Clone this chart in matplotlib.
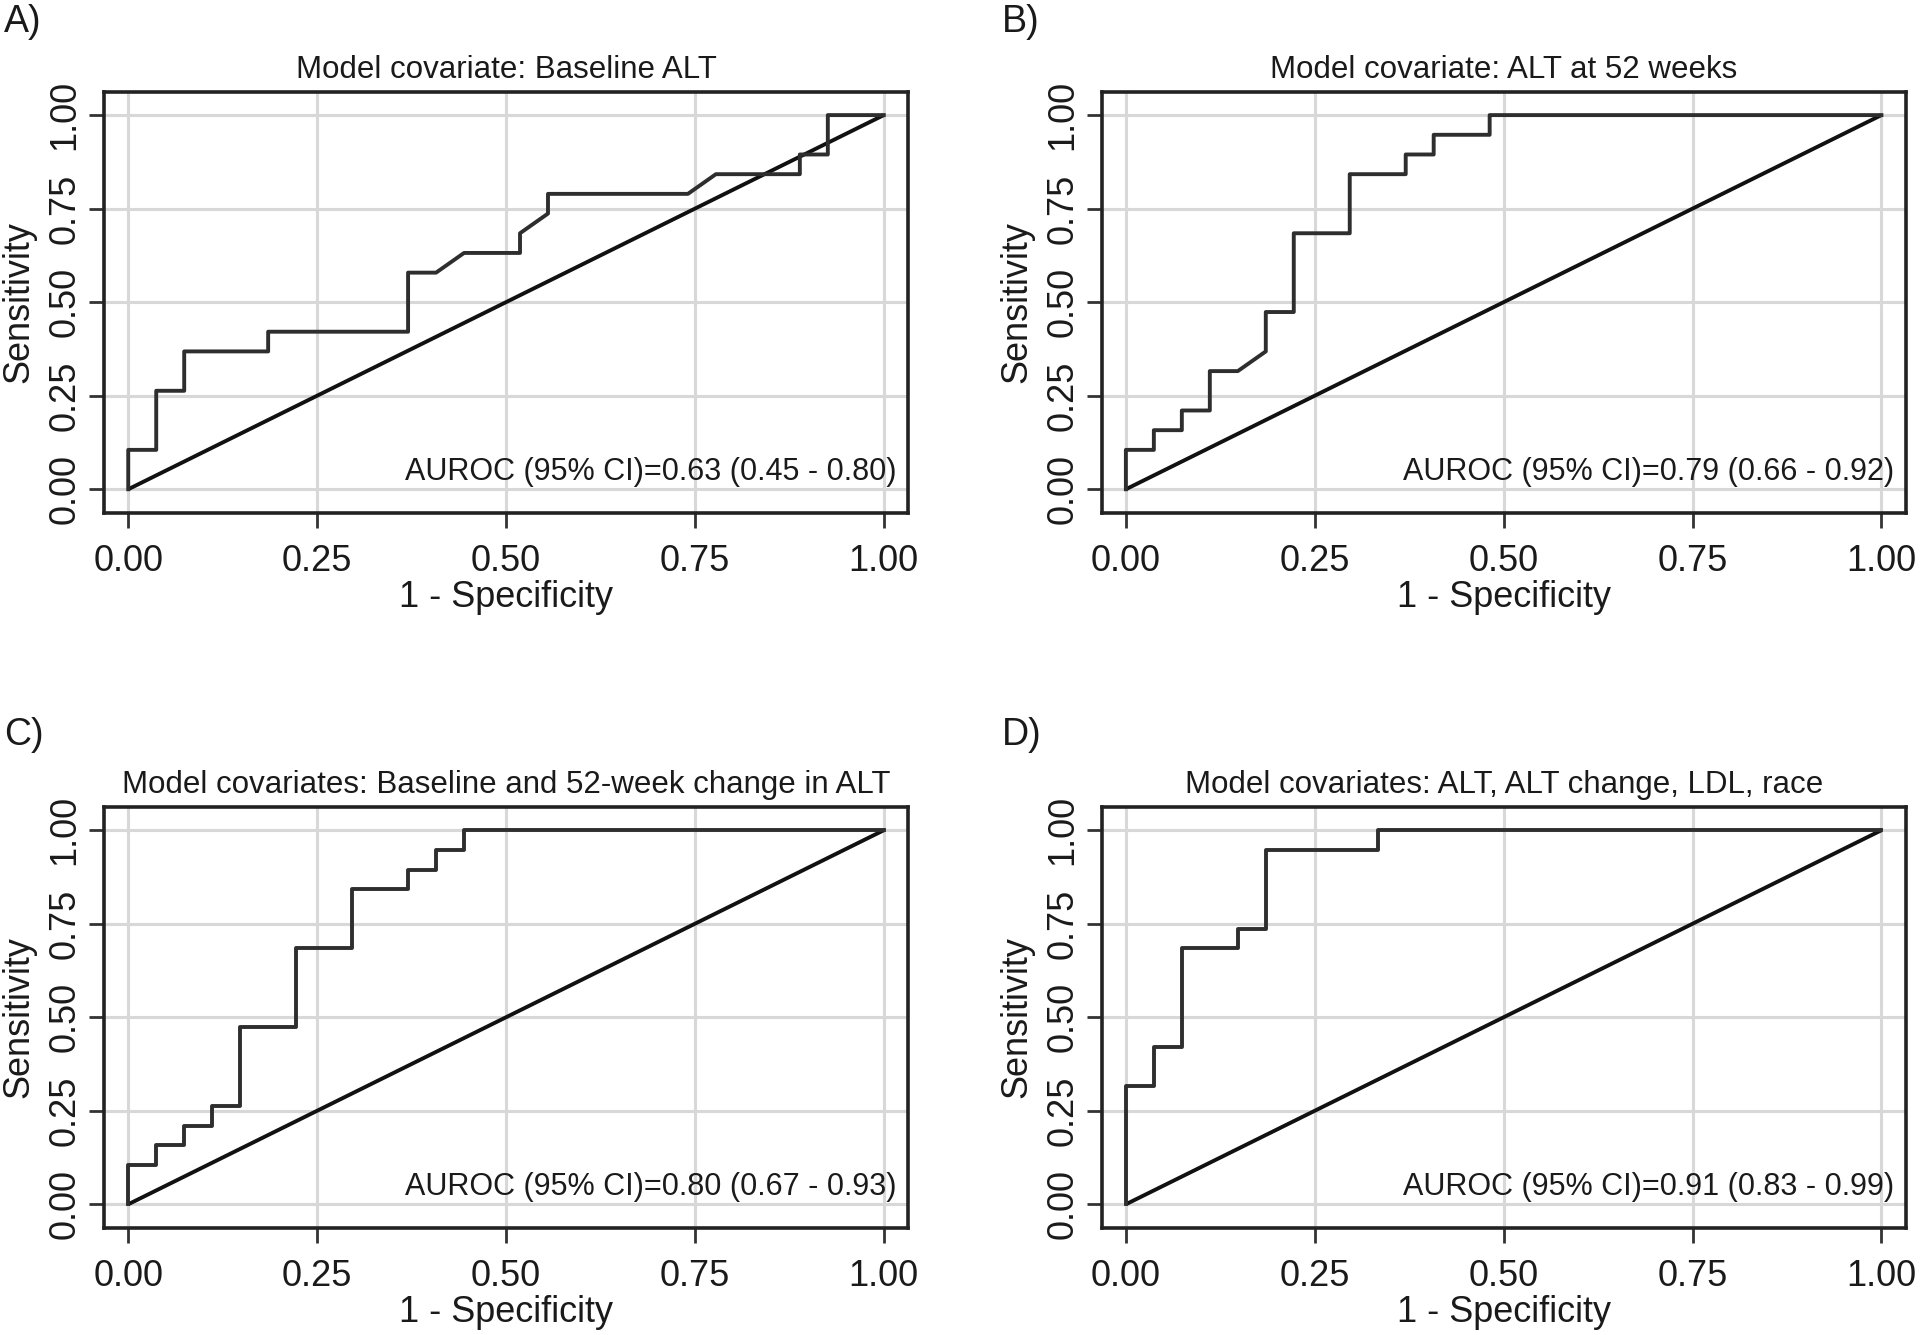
import numpy as np
import matplotlib
matplotlib.use('Agg')
from matplotlib import pyplot as plt

plt.rcParams['font.family'] = ['Liberation Sans', 'DejaVu Sans']

#--- Data: ROC step points (as counts) ----------------------------------------#
n_neg = 27   # non-responders -> 1 - specificity steps
n_pos = 19   # responders     -> sensitivity steps

a_neg = [0, 0, 1, 1, 2, 2, 5, 5, 10, 10, 11, 12, 14, 14, 15, 15, 20, 21, 24, 24, 25, 25, 27]
a_pos = [0, 2, 2, 5, 5, 7, 7, 8, 8, 11, 11, 12, 12, 13, 14, 15, 15, 16, 16, 17, 17, 19, 19]

b_neg = [0, 0, 1, 1, 2, 2, 3, 3, 4, 5, 5, 6, 6, 8, 8, 10, 10, 11, 11, 13, 13, 27]
b_pos = [0, 2, 2, 3, 3, 4, 4, 6, 6, 7, 9, 9, 13, 13, 16, 16, 17, 17, 18, 18, 19, 19]

c_neg = [0, 0, 1, 1, 2, 2, 3, 3, 4, 4, 6, 6, 8, 8, 10, 10, 11, 11, 12, 12, 27]
c_pos = [0, 2, 2, 3, 3, 4, 4, 5, 5, 9, 9, 13, 13, 16, 16, 17, 17, 18, 18, 19, 19]

d_neg = [0, 0, 1, 1, 2, 2, 4, 4, 5, 5, 9, 9, 27]
d_pos = [0, 6, 6, 8, 8, 13, 13, 14, 14, 18, 18, 19, 19]

titles = ['Model covariate: Baseline ALT',
          'Model covariate: ALT at 52 weeks',
          'Model covariates: Baseline and 52-week change in ALT',
          'Model covariates: ALT, ALT change, LDL, race']
aurocs = ['AUROC (95% CI)=0.63 (0.45 - 0.80)',
          'AUROC (95% CI)=0.79 (0.66 - 0.92)',
          'AUROC (95% CI)=0.80 (0.67 - 0.93)',
          'AUROC (95% CI)=0.91 (0.83 - 0.99)']
letters = ['A)', 'B)', 'C)', 'D)']

tick_vals = [0, 0.25, 0.5, 0.75, 1]
tick_labels = ['0.00', '0.25', '0.50', '0.75', '1.00']

text_col = '#1a1a1a'

#------------------------------------------------------------------------------#
def draw_roc(ax, neg, pos, title, auroc):
    fpr = np.array(neg) / n_neg
    tpr = np.array(pos) / n_pos

    ax.plot([0, 1], [0, 1], color='#111111', linewidth=2.8, solid_capstyle='butt')
    ax.plot(fpr, tpr, color='#2e2e2e', linewidth=2.8)

    ax.set_xlim(-0.032, 1.032)
    ax.set_ylim(-0.0625, 1.0625)
    ax.set_xticks(tick_vals)
    ax.set_yticks(tick_vals)
    ax.set_xticklabels(tick_labels)
    ax.set_yticklabels(tick_labels, rotation=90, va='center')

    ax.grid(True, color='#d8d8d8', linewidth=2.2)
    ax.set_axisbelow(True)
    for s in ax.spines.values():
        s.set_linewidth(2.6)
        s.set_color('#222222')

    ax.tick_params(axis='both', direction='out', length=10.5, width=2.0,
                   labelsize=26, color='#333333', labelcolor=text_col)
    ax.tick_params(axis='x', pad=12)
    ax.tick_params(axis='y', pad=5)

    ax.set_title(title, fontsize=22.5, pad=10, color=text_col)
    ax.set_xlabel('1 - Specificity', fontsize=26, labelpad=1, color=text_col)
    ax.set_ylabel('Sensitivity', fontsize=26, labelpad=8, color=text_col)
    ax.text(1.017, 0.046, auroc, ha='right', va='center', fontsize=22, color=text_col)

#------------------------------------------------------------------------------#
fig = plt.figure(figsize=(19.2, 13.35), dpi=100)

rects = [[0.0542, 0.6160, 0.4187, 0.3153],
         [0.5738, 0.6160, 0.4187, 0.3153],
         [0.0542, 0.0804, 0.4187, 0.3152],
         [0.5738, 0.0804, 0.4187, 0.3152]]
letter_pos = [(0.002, 0.9835), (0.5217, 0.9835), (0.002, 0.4495), (0.5217, 0.4495)]
negs = [a_neg, b_neg, c_neg, d_neg]
poss = [a_pos, b_pos, c_pos, d_pos]

for i in range(4):
    ax = fig.add_axes(rects[i])
    draw_roc(ax, negs[i], poss[i], titles[i], aurocs[i])
    fig.text(letter_pos[i][0], letter_pos[i][1], letters[i], fontsize=27,
             ha='left', va='center', color=text_col)

fig.savefig('out.png', dpi=100, facecolor='white')
